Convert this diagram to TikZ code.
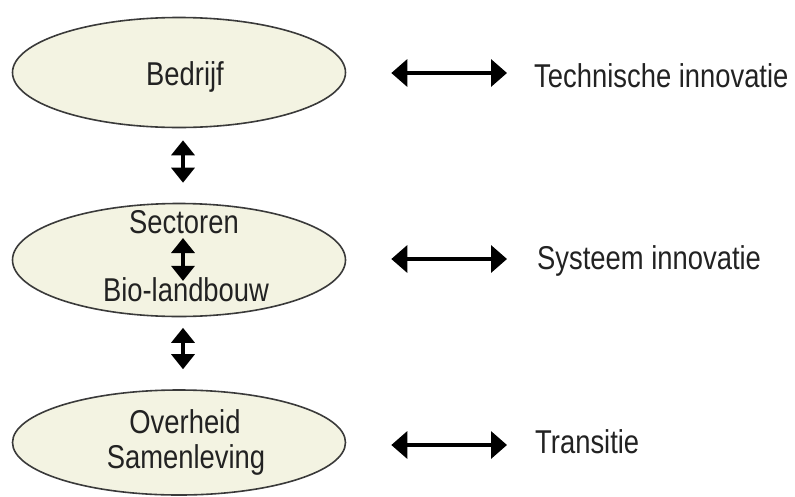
\documentclass[tikz,border=0pt]{standalone}
\usepackage{fontspec}
\setmainfont[FakeStretch=0.83]{Liberation Sans}
\usetikzlibrary{shapes.geometric,arrows.meta}
\definecolor{cream}{HTML}{F3F3E2}
\definecolor{rim}{HTML}{3A3A3A}
\definecolor{ink}{HTML}{222222}
\begin{document}
\begin{tikzpicture}[x=1pt,y=-1pt,
  oval/.style={draw=rim,line width=1.6pt,fill=cream,ellipse,inner sep=0pt,minimum width=333pt},
  lbl/.style={text=ink,inner sep=0pt,font=\fontsize{33}{38}\selectfont},
  varrow/.style={line width=3.5pt,{Triangle[length=15pt,width=23pt]}-{Triangle[length=15pt,width=23pt]}},
  harrow/.style={line width=3.5pt,{Triangle[length=16pt,width=27pt]}-{Triangle[length=16pt,width=27pt]}}]
\useasboundingbox (0,0) rectangle (795,496);
% ellipses
\node[oval,minimum height=110pt] (e1) at (179,72.5) {};
\node[oval,minimum height=113pt] (e2) at (179,260) {};
\node[oval,minimum height=105pt] (e3) at (179,442.5) {};
% ellipse texts
\node[lbl,anchor=base] (bedrijf) at (185,85) {Bedrijf};
\node[lbl,anchor=base] (sect) at (184,233) {Sectoren};
\node[lbl,anchor=base] (bio) at (186,301) {Bio-landbouw};
\node[lbl,anchor=base] (over) at (185,433) {Overheid};
\node[lbl,anchor=base] (samen) at (186,468) {Samenleving};
% right texts
\node[lbl,anchor=base west] (tech) at (534,87) {Technische innovatie};
\node[lbl,anchor=base west] (syst) at (537,269) {Systeem innovatie};
\node[lbl,anchor=base west] (trans) at (535,453) {Transitie};
% vertical arrows
\draw[varrow] ([xshift=4pt,yshift=-12pt]e1.south) -- ([xshift=4pt,yshift=20pt]e2.north);
\draw[varrow] ([xshift=4pt,yshift=-10.5pt]e2.south) -- ([xshift=4pt,yshift=20pt]e3.north);
\draw[varrow] ([xshift=-1pt,yshift=-5pt]sect.base) -- ([xshift=-3pt,yshift=-4pt]bio.north);
% horizontal arrows
\draw[harrow] ([xshift=45pt,yshift=-0.5pt]e1.east) -- ([xshift=-27pt,yshift=-0.5pt]e1.east -| tech.west);
\draw[harrow] ([xshift=45pt,yshift=1pt]e2.east) -- ([xshift=-30pt,yshift=1pt]e2.east -| syst.west);
\draw[harrow] ([xshift=45pt,yshift=-2.5pt]e3.east) -- ([xshift=-28pt,yshift=-2.5pt]e3.east -| trans.west);
\end{tikzpicture}
\end{document}
